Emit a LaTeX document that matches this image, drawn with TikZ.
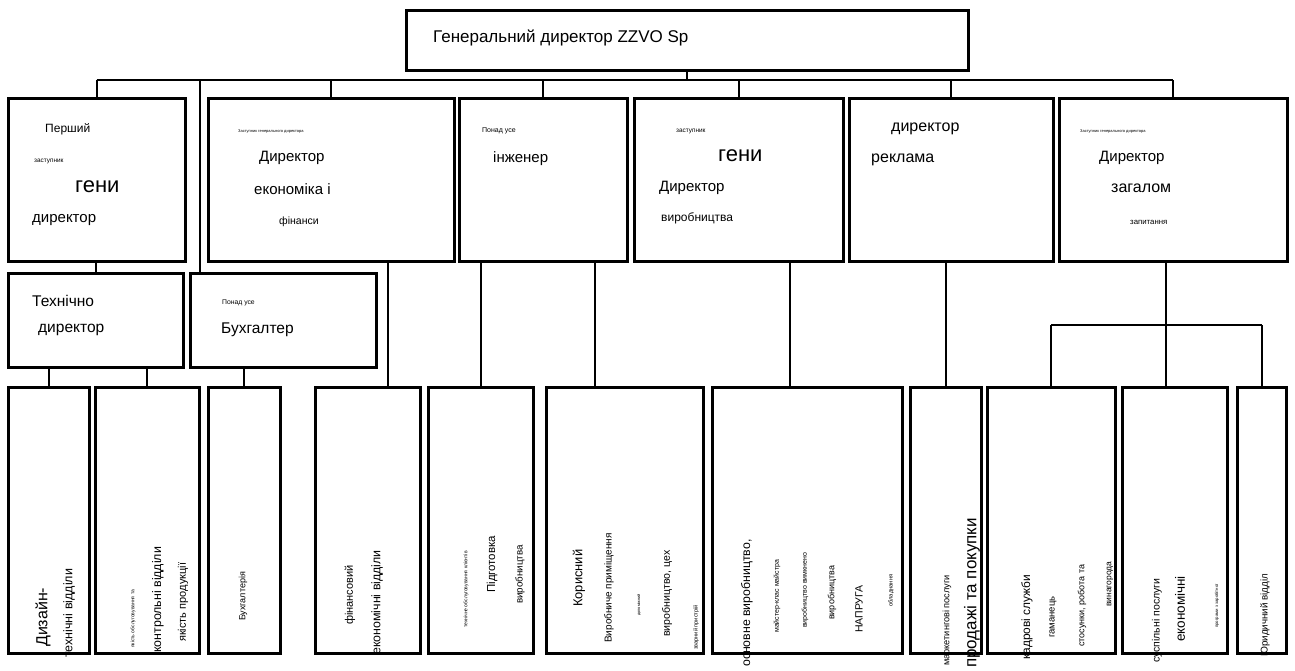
\documentclass[tikz,border=0pt]{standalone}
\usepackage{fontspec}
\setmainfont{Liberation Sans}
\usetikzlibrary{calc}
\newcommand{\fs}[1]{\fontsize{#1}{#1}\selectfont}
\tikzset{
  box/.style={draw, line width=3pt, inner sep=0pt},
  link/.style={line width=2pt},
  tx/.style={inner sep=0pt, anchor=west},
  vtx/.style={tx, rotate=90}
}

\begin{document}
\begin{tikzpicture}[x=1pt, y=-1pt]
  % page frame (pixel units, y downwards)
  \useasboundingbox (0,0) rectangle (1295,670);

  % Top manager
  \node[box, minimum width=562pt, minimum height=60pt] (ceo) at (687,40) {};
  \node[tx] (ceot) at (433,38) {\fs{17}Генеральний директор ZZVO Sp};

  % Row 1 - deputies
  \node[box, minimum width=177pt, minimum height=163pt] (b1) at (96.5,179.5) {};
  \node[box, minimum width=246pt, minimum height=163pt] (b2) at (331,179.5) {};
  \node[box, minimum width=168pt, minimum height=163pt] (b3) at (543,179.5) {};
  \node[box, minimum width=209pt, minimum height=163pt] (b4) at (738.5,179.5) {};
  \node[box, minimum width=204pt, minimum height=163pt] (b5) at (951,179.5) {};
  \node[box, minimum width=228pt, minimum height=163pt] (b6) at (1173,179.5) {};

  \node[tx] (b1a) at (45,129) {\fs{12}Перший};
  \node[tx] (b1b) at (34,161) {\fs{6.4}заступник};
  \node[tx] (b1c) at (75,187) {\fs{22}гени};
  \node[tx] (b1d) at (32,220) {\fs{15}директор};

  \node[tx] (b2a) at (238,132) {\fs{4}Заступник генерального директора};
  \node[tx] (b2b) at (259,158) {\fs{15}Директор};
  \node[tx] (b2c) at (254,189) {\fs{15}економіка і};
  \node[tx] (b2d) at (279,222) {\fs{10.5}фінанси};

  \node[tx] (b3a) at (482,131) {\fs{7}Понад усе};
  \node[tx] (b3b) at (493,159) {\fs{15}інженер};

  \node[tx] (b4a) at (676,131) {\fs{6.4}заступник};
  \node[tx] (b4b) at (718,156) {\fs{22}гени};
  \node[tx] (b4c) at (659,188) {\fs{15}Директор};
  \node[tx] (b4d) at (661,218) {\fs{12}виробництва};

  \node[tx] (b5a) at (891,129) {\fs{16}директор};
  \node[tx] (b5b) at (871,160) {\fs{16}реклама};

  \node[tx] (b6a) at (1080,132) {\fs{4}Заступник генерального директора};
  \node[tx] (b6b) at (1099,158) {\fs{15}Директор};
  \node[tx] (b6c) at (1111,188) {\fs{16}загалом};
  \node[tx] (b6d) at (1130,222) {\fs{7.8}запитання};

  % Row 2
  \node[box, minimum width=175pt, minimum height=94pt] (tech) at (95.5,320) {};
  \node[box, minimum width=186pt, minimum height=94pt] (acc) at (283,320) {};
  \node[tx] (techa) at (32,301) {\fs{15.5}Технічно};
  \node[tx] (techb) at (38,330) {\fs{15.5}директор};
  \node[tx] (acca) at (222,303) {\fs{6.8}Понад усе};
  \node[tx] (accb) at (221,330) {\fs{15.5}Бухгалтер};

  % Row 3 - departments
  \node[box, minimum width=81pt, minimum height=266pt] (r1) at (48.5,520) {};
  \node[box, minimum width=104pt, minimum height=266pt] (r2) at (147,520) {};
  \node[box, minimum width=72pt, minimum height=266pt] (r3) at (244,520) {};
  \node[box, minimum width=105pt, minimum height=266pt] (r4) at (367.5,520) {};
  \node[box, minimum width=105pt, minimum height=266pt] (r5) at (480.5,520) {};
  \node[box, minimum width=157pt, minimum height=266pt] (r6) at (624.5,520) {};
  \node[box, minimum width=190pt, minimum height=266pt] (r7) at (807,520) {};
  \node[box, minimum width=71pt, minimum height=266pt] (r8) at (945.5,520) {};
  \node[box, minimum width=128pt, minimum height=266pt] (r9) at (1051,520) {};
  \node[box, minimum width=105pt, minimum height=266pt] (r10) at (1174.5,520) {};
  \node[box, minimum width=49pt, minimum height=266pt] (r11) at (1261.5,520) {};

  \node[vtx] (r1a) at (43,647) {\fs{16}Дизайн-};
  \node[vtx] (r1b) at (69,658) {\fs{12.5}технічні відділи};
  \node[vtx] (r2a) at (133,648) {\fs{5}якість обслуговування та};
  \node[vtx] (r2b) at (158,653) {\fs{12.4}контрольні відділи};
  \node[vtx] (r2c) at (183,642) {\fs{11}якість продукції};
  \node[vtx] (r3a) at (243,621) {\fs{9}Бухгалтерія};
  \node[vtx] (r4a) at (350,625) {\fs{11}фінансовий};
  \node[vtx] (r4b) at (377,655) {\fs{12.4}економічні відділи};
  \node[vtx] (r5a) at (466,628) {\fs{5}технічне обслуговування клієнтів};
  \node[vtx] (r5b) at (492,593) {\fs{11.5}Підготовка};
  \node[vtx] (r5c) at (520,604) {\fs{9.8}виробництва};
  \node[vtx] (r6a) at (579,607) {\fs{12.9}Корисний};
  \node[vtx] (r6b) at (609,643) {\fs{10}Виробниче приміщення};
  \node[vtx] (r6c) at (639,616) {\fs{4}допоміжний};
  \node[vtx] (r6d) at (667,637) {\fs{10.6}виробництво, цех};
  \node[vtx] (r6e) at (696,650) {\fs{5.6}зварний пристрій};
  \node[vtx] (r7a) at (747,667) {\fs{12.3}основне виробництво,};
  \node[vtx] (r7b) at (777,633) {\fs{7}майстер-клас майстра};
  \node[vtx] (r7c) at (805,628) {\fs{7}виробництво вимкнено};
  \node[vtx] (r7d) at (832,620) {\fs{9}виробництва};
  \node[vtx] (r7e) at (859,633) {\fs{10.5}НАПРУГА};
  \node[vtx] (r7f) at (891,607) {\fs{5.8}обладнання};
  \node[vtx] (r8a) at (947,666) {\fs{9.2}маркетингові послуги};
  \node[vtx] (r8b) at (972,668) {\fs{17}продажі та покупки};
  \node[vtx] (r9a) at (1027,660) {\fs{11.9}кадрові служби};
  \node[vtx] (r9b) at (1053,638) {\fs{9.5}гаманець};
  \node[vtx] (r9c) at (1082,647) {\fs{9}стосунки, робота та};
  \node[vtx] (r9d) at (1110,607) {\fs{8.5}винагорода};
  \node[vtx] (r10a) at (1157,663) {\fs{10.5}суспільні послуги};
  \node[vtx] (r10b) at (1180,642) {\fs{13.5}економічні};
  \node[vtx] (r10c) at (1217,628) {\fs{4.3}програми з заробітної};
  \node[vtx] (r11a) at (1265,657) {\fs{9.8}Юридичний відділ};

  % Connectors
  \coordinate (bus) at (0,80);
  \coordinate (hub) at (1166,325);
  \draw[link] (ceo.south) -- (ceo.south |- bus);
  \draw[link] (b1.north |- bus) -- (b6.north |- bus);
  \foreach \n in {b1,b2,b3,b4,b5,b6} {
    \draw[link] (\n.north) -- (\n.north |- bus);
  }
  \draw[link] (200,0 |- bus) -- (200,0 |- acc.north);
  \draw[link] (tech.north) -- (tech.north |- b1.south);
  \foreach \n in {r1,r2} {
    \draw[link] (\n.north) -- (\n.north |- tech.south);
  }
  \draw[link] (r3.north) -- (r3.north |- acc.south);
  \draw[link] (388,0 |- b2.south) -- (388,0 |- r4.north);
  \draw[link] (r5.north) -- (r5.north |- b3.south);
  \draw[link] (595,0 |- b3.south) -- (595,0 |- r6.north);
  \draw[link] (790,0 |- b4.south) -- (790,0 |- r7.north);
  \draw[link] (r8.north) -- (r8.north |- b5.south);
  \draw[link] (hub |- b6.south) -- (hub |- r10.north);
  \draw[link] (r9.north |- hub) -- (r11.north |- hub);
  \foreach \n in {r9,r11} {
    \draw[link] (\n.north) -- (\n.north |- hub);
  }
\end{tikzpicture}
\end{document}
